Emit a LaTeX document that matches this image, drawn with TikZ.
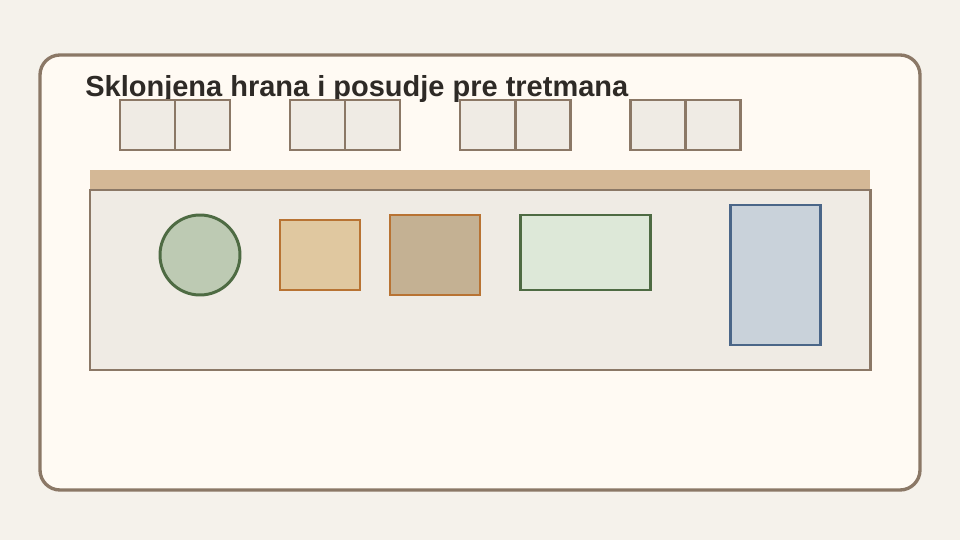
\documentclass[tikz,border=0pt]{standalone}
\usepackage{fontspec}
\setmainfont{Liberation Sans}
\usepackage{tikz}
\usetikzlibrary{positioning,calc}
\definecolor{bgpage}{HTML}{F5F2EB}
\definecolor{panel}{HTML}{FFFAF3}
\definecolor{frame}{HTML}{8B7866}
\definecolor{shelf}{HTML}{EFEBE4}
\definecolor{woodtop}{HTML}{D4B896}
\definecolor{plate}{HTML}{BDCAB3}
\definecolor{herb}{HTML}{4E6B43}
\definecolor{copper}{HTML}{B87333}
\definecolor{breadfill}{HTML}{E0C8A0}
\definecolor{potfill}{HTML}{C4B193}
\definecolor{trayfill}{HTML}{DDE8D8}
\definecolor{steel}{HTML}{4A6688}
\definecolor{binfill}{HTML}{C9D2DA}
\definecolor{ink}{HTML}{2E2A26}
\tikzstyle{cabinet} = [draw=frame, line width=1.7pt, fill=shelf]
\tikzstyle{item} = [line width=1.7pt]

\begin{document}
\begin{tikzpicture}[x=0.02cm,y=-0.02cm]
\fill[bgpage] (0,0) rectangle (960,540);
\useasboundingbox (0,0) rectangle (960,540);
% panel
\draw[frame, fill=panel, line width=1.9pt, rounded corners=0.4cm] (40,55) rectangle (920,490);
\node[anchor=base west, text=ink, font=\fontsize{16.5}{19}\selectfont\bfseries, inner sep=0pt] (title) at (85,97) {Sklonjena hrana i posudje pre tretmana};
% upper cabinets
\foreach \x in {120,290,460,630}{
  \draw[cabinet] (\x,100) rectangle ++(55,50);
  \draw[cabinet] (\x+55,100) rectangle ++(55,50);
}
% counter
\fill[woodtop] (90,170) rectangle (870,190);
\draw[cabinet] (90,190) rectangle (870,370);
% stored things
\draw[item, draw=herb, fill=plate] (200,255) circle (40);
\draw[item, draw=copper, fill=breadfill] (280,220) rectangle (360,290);
\draw[item, draw=copper, fill=potfill] (390,215) rectangle (480,295);
\draw[item, draw=herb, fill=trayfill] (520,215) rectangle (650,290);
\draw[item, draw=steel, fill=binfill] (730,205) rectangle (820,345);
\end{tikzpicture}
\end{document}
